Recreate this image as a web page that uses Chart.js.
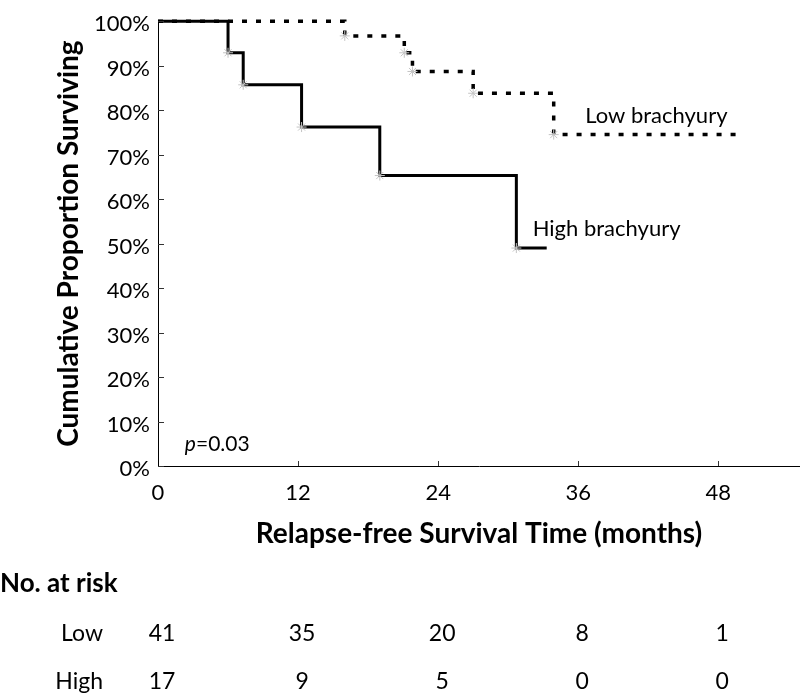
<!DOCTYPE html>
<html><head><meta charset="utf-8">
<script src="https://cdn.jsdelivr.net/npm/chart.js@4/dist/chart.umd.min.js"></script>
<style>html,body{margin:0;padding:0;background:#fff}#wrap{width:800px;height:695px;position:relative}canvas{display:block}</style>
</head><body><div id="wrap"><canvas id="c" width="800" height="695"></canvas></div>
<script>
// ---- data ----
const highTimes    = [0, 6.0, 7.3, 12.3, 19.0, 30.7, 33.3];
const highSurvival = [100, 92.9, 85.7, 76.2, 65.3, 49.0, 49.0];
const lowTimes     = [0, 16.0, 21.1, 21.8, 27.0, 33.9, 49.6];
const lowSurvival  = [100, 96.7, 92.9, 88.7, 83.8, 74.5, 74.5];
const seriesLabels = ['High brachyury', 'Low brachyury'];
const xTickValues  = [0, 12, 24, 36, 48];
const riskGroups   = ['Low', 'High'];
const riskLow      = [41, 35, 20, 8, 1];
const riskHigh     = [17, 9, 5, 0, 0];
const pValueLabel  = ['p', '=0.03'];

const FONT = 'Lato';

function toPoints(ts, ss) { return ts.map((t, i) => ({ x: t, y: ss[i] })); }
function markerRadius(n) { return ctx => (ctx.dataIndex === 0 || ctx.dataIndex === n - 1) ? 0 : 5; }

const extras = {
  id: 'extras',
  afterDraw(chart) {
    const ctx = chart.ctx, xs = chart.scales.x, ys = chart.scales.y;
    const area = chart.chartArea;
    ctx.save();
    // inward tick marks
    ctx.strokeStyle = '#333'; ctx.lineWidth = 1;
    ctx.beginPath();
    for (let v = 0; v <= 100; v += 10) {
      const y = Math.round(ys.getPixelForValue(v)) + 0.5;
      ctx.moveTo(area.left, y); ctx.lineTo(area.left + 6, y);
    }
    xTickValues.forEach(v => {
      if (v === 0) return;
      const x = Math.round(xs.getPixelForValue(v)) + 0.5;
      ctx.moveTo(x, area.bottom); ctx.lineTo(x, area.bottom - 5);
    });
    ctx.stroke();

    ctx.fillStyle = '#000';
    ctx.textBaseline = 'alphabetic';
    // curve labels
    ctx.font = '22px ' + FONT;
    ctx.textAlign = 'left';
    ctx.fillText(seriesLabels[1], xs.getPixelForValue(36.6), ys.getPixelForValue(77.2));
    ctx.fillText(seriesLabels[0], xs.getPixelForValue(32.1), ys.getPixelForValue(51.6));
    // p value
    const px = xs.getPixelForValue(2.3), py = ys.getPixelForValue(3.3);
    ctx.font = 'italic 21px ' + FONT;
    ctx.fillText(pValueLabel[0], px, py);
    const pw = ctx.measureText(pValueLabel[0]).width;
    ctx.font = '21px ' + FONT;
    ctx.fillText(pValueLabel[1], px + pw, py);

    // number at risk table
    ctx.font = 'bold 26px ' + FONT;
    ctx.textAlign = 'left';
    ctx.fillText('No. at risk', 0, 592);
    const rows = [riskLow, riskHigh];
    const baselines = [641, 689];
    ctx.font = '23px ' + FONT;
    rows.forEach((row, r) => {
      ctx.textAlign = 'right';
      ctx.fillText(riskGroups[r], 103, baselines[r]);
      ctx.textAlign = 'center';
      row.forEach((n, i) => {
        ctx.fillText(String(n), xs.getPixelForValue(xTickValues[i]) + 4, baselines[r]);
      });
    });
    ctx.restore();
  }
};

function build() {
  new Chart(document.getElementById('c'), {
    type: 'scatter',
    data: {
      datasets: [
        {
          label: seriesLabels[0],
          data: toPoints(highTimes, highSurvival),
          showLine: true, stepped: true, clip: false,
          borderColor: '#000', borderWidth: 3,
          pointStyle: 'star', pointRadius: markerRadius(highTimes.length),
          pointBorderColor: '#c4c4c4', pointBackgroundColor: '#c4c4c4', pointBorderWidth: 1,
          order: 0
        },
        {
          label: seriesLabels[1],
          data: toPoints(lowTimes, lowSurvival),
          showLine: true, stepped: true, clip: false,
          borderColor: '#000', borderWidth: 3.5, borderDash: [5, 9],
          pointStyle: 'star', pointRadius: markerRadius(lowTimes.length),
          pointBorderColor: '#c4c4c4', pointBackgroundColor: '#c4c4c4', pointBorderWidth: 1,
          order: 1
        }
      ]
    },
    options: {
      responsive: false, animation: false, devicePixelRatio: 1,
      layout: { padding: { top: 8, right: 0, bottom: 139, left: 0 } },
      plugins: { legend: { display: false }, tooltip: { enabled: false } },
      scales: {
        x: {
          type: 'linear', min: 0, max: 55,
          afterBuildTicks: s => { s.ticks = xTickValues.map(v => ({ value: v })); },
          afterFit: s => { s.height = 90; },
          grid: { display: false, drawTicks: false },
          border: { display: true, color: '#000', width: 1 },
          ticks: { color: '#000', font: { family: FONT, size: 22 }, padding: 14, maxRotation: 0, autoSkip: false },
          title: { display: true, text: 'Relapse-free Survival Time (months)', color: '#000',
                   font: { family: FONT, size: 28, weight: 'bold' }, padding: { top: 0, bottom: 5 } }
        },
        y: {
          min: 0, max: 100,
          afterFit: s => { s.width = 158; },
          grid: { display: false, drawTicks: false },
          border: { display: true, color: '#000', width: 1 },
          ticks: { stepSize: 10, color: '#000', font: { family: FONT, size: 22 }, padding: 8, labelOffset: 3,
                   callback: v => v + '%' },
          title: { display: true, text: 'Cumulative Proportion Surviving', color: '#000',
                   font: { family: FONT, size: 28, weight: 'bold' }, padding: { top: 52, bottom: 0 } }
        }
      }
    },
    plugins: [extras]
  });
}
const loads = [ '22px ' + FONT, 'bold 28px ' + FONT, 'italic 21px ' + FONT ].map(f => document.fonts.load(f).catch(() => null));
Promise.all(loads).then(build, build);
</script>
</body></html>
